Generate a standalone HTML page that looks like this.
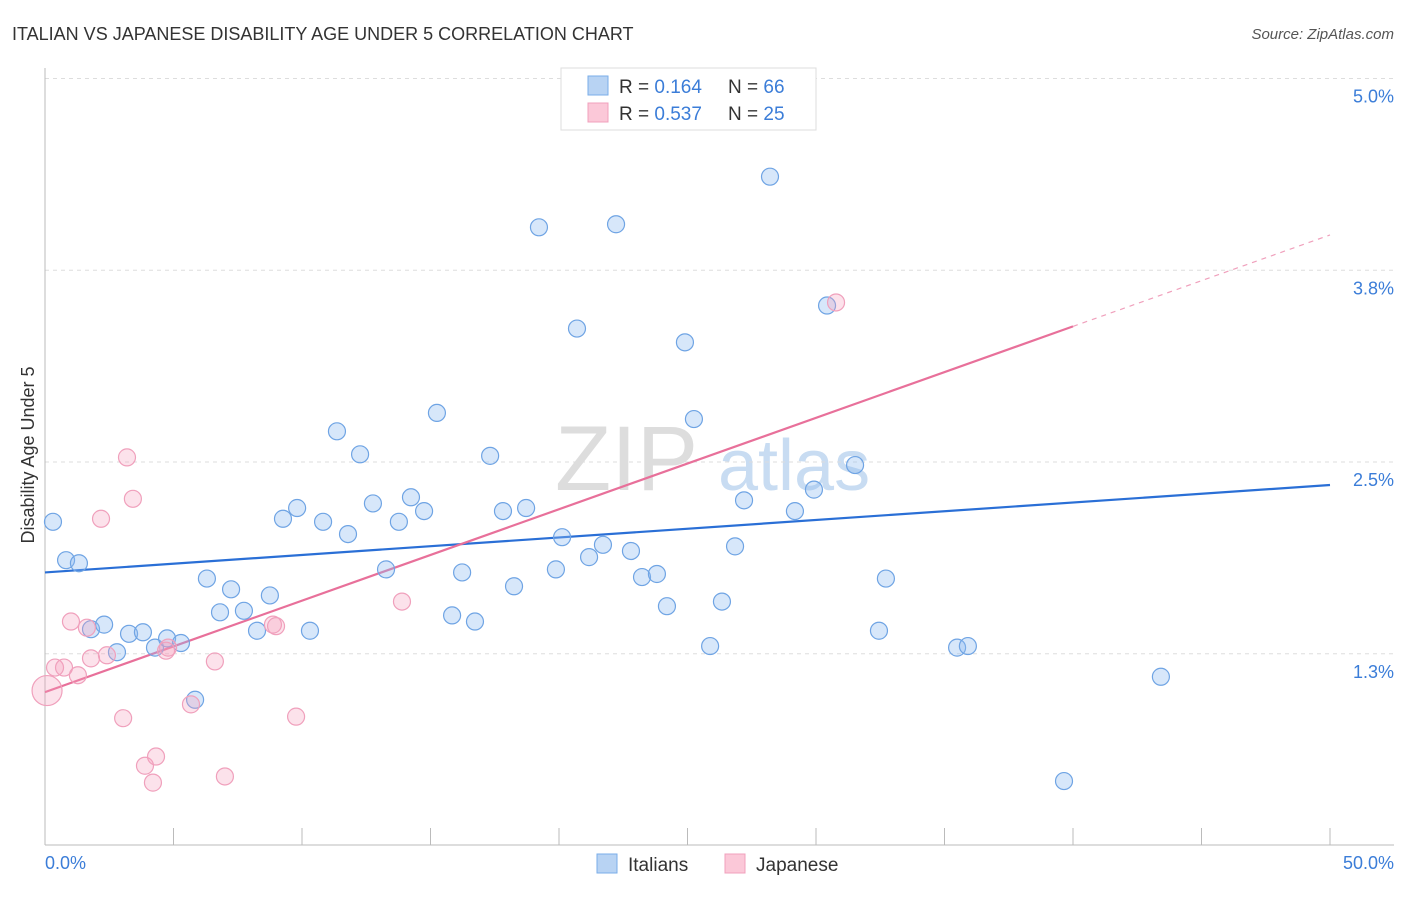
<!DOCTYPE html>
<html><head><meta charset="utf-8"><style>
body{margin:0;background:#fff;font-family:"Liberation Sans",sans-serif;}
svg text{font-family:"Liberation Sans",sans-serif;}
</style></head><body>
<svg id="chart" width="1406" height="892" viewBox="0 0 1406 892">
<text x="12" y="40" font-size="18" fill="#333">ITALIAN VS JAPANESE DISABILITY AGE UNDER 5 CORRELATION CHART</text>
<text x="1394" y="39" font-size="15" fill="#555" font-style="italic" text-anchor="end">Source: ZipAtlas.com</text>
<g><text x="555" y="490" font-size="92" fill="#ddd" font-family="Liberation Serif">ZIP</text><text x="718" y="490" font-size="72" fill="#c8dcf2">atlas</text></g>
<g id="grid"></g><g id="axes"></g><g id="lines"></g><g id="points"></g>
<text transform="translate(34,455) rotate(-90)" font-size="18" fill="#333" text-anchor="middle">Disability Age Under 5</text>
<text x="45" y="869" font-size="18" fill="#3b7dd8">0.0%</text>
<text x="1394" y="869" font-size="18" fill="#3b7dd8" text-anchor="end">50.0%</text>
<g>
<rect x="561" y="68" width="255" height="62" fill="#fff" stroke="#ddd"/>
<rect x="588" y="76" width="20" height="19" fill="#b8d3f3" stroke="#7aaee8"/>
<rect x="588" y="103" width="20" height="19" fill="#fbc8d8" stroke="#f0a0bc"/>
<text x="619" y="93" font-size="19" fill="#333">R = <tspan fill="#3b7dd8">0.164</tspan><tspan x="728">N = </tspan><tspan fill="#3b7dd8">66</tspan></text>
<text x="619" y="120" font-size="19" fill="#333">R = <tspan fill="#3b7dd8">0.537</tspan><tspan x="728">N = </tspan><tspan fill="#3b7dd8">25</tspan></text>
</g>
<g>
<rect x="597" y="854" width="20" height="19" fill="#b8d3f3" stroke="#7aaee8"/>
<text x="628" y="871" font-size="19" fill="#333">Italians</text>
<rect x="725" y="854" width="20" height="19" fill="#fbc8d8" stroke="#f0a0bc"/>
<text x="756" y="871" font-size="19" fill="#333">Japanese</text>
</g>
</svg>
<script>
const yTicks=[1.25,2.5,3.75,5.0];
const yTickLabels=["1.3%","2.5%","3.8%","5.0%"];
const xTicks=[0,5,10,15,20,25,30,35,40,45,50];
const italiansX=[0.31,0.82,1.32,1.79,2.30,2.80,3.27,3.81,4.28,4.75,5.29,5.84,6.30,6.81,7.24,7.74,8.25,8.75,9.26,9.81,10.31,10.82,11.36,11.79,12.26,12.76,13.27,13.77,14.24,14.75,15.25,15.84,16.23,16.73,17.32,17.82,18.25,18.72,19.22,19.88,20.12,20.70,21.17,21.71,22.22,22.80,23.23,23.81,24.20,24.90,25.25,25.88,26.34,26.85,27.20,28.21,29.18,29.92,30.43,31.52,32.45,32.72,35.49,35.91,43.42,39.65];
const italiansY=[2.11,1.86,1.84,1.41,1.44,1.26,1.38,1.39,1.29,1.35,1.32,0.95,1.74,1.52,1.67,1.53,1.40,1.63,2.13,2.20,1.40,2.11,2.70,2.03,2.55,2.23,1.80,2.11,2.27,2.18,2.82,1.50,1.78,1.46,2.54,2.18,1.69,2.20,4.03,1.80,2.01,3.37,1.88,1.96,4.05,1.92,1.75,1.77,1.56,3.28,2.78,1.30,1.59,1.95,2.25,4.36,2.18,2.32,3.52,2.48,1.40,1.74,1.29,1.30,1.10,0.42];
const japaneseX=[0.08,0.39,0.74,1.01,1.28,1.63,1.79,2.18,2.41,3.04,3.19,3.42,3.89,4.20,4.32,4.71,4.79,5.68,6.61,7.00,8.87,8.99,9.77,13.89,30.78];
const japaneseY=[1.01,1.16,1.16,1.46,1.11,1.42,1.22,2.13,1.24,0.83,2.53,2.26,0.52,0.41,0.58,1.27,1.29,0.92,1.20,0.45,1.44,1.43,0.84,1.59,3.54];
const italiansTrend=[1.78,2.35];
const japaneseTrend=[1.00,3.98];
const japaneseSolidEnd=40;

const NS="http://www.w3.org/2000/svg";
const xs=v=>45+v*25.7;
const ys=v=>845.5-v*153.4;
function mk(tag,attrs,parent){const e=document.createElementNS(NS,tag);for(const k in attrs)e.setAttribute(k,attrs[k]);parent.appendChild(e);return e;}
const grid=document.getElementById('grid'),axes=document.getElementById('axes'),lines=document.getElementById('lines'),pts=document.getElementById('points');
yTicks.forEach((t,i)=>{
 const l=mk('line',{x1:45,x2:1394,y1:ys(t),y2:ys(t),stroke:'#ddd','stroke-dasharray':'4,4'},grid);
 
 
 const tx=mk('text',{x:1394,y:ys(t)+24,'font-size':18,fill:'#3b7dd8','text-anchor':'end'},grid);
 tx.textContent=yTickLabels[i];
 
 
});
const ya=mk('line',{x1:45,x2:45,y1:68,y2:845,stroke:'#bbb'},axes);


const xa=mk('line',{x1:45,x2:1394,y1:845,y2:845,stroke:'#bbb'},axes);


xTicks.forEach(t=>{
 const l=mk('line',{x1:xs(t),x2:xs(t),y1:828,y2:845,stroke:'#bbb'},axes);
 
 
});
function dots(X,Y,fill,stroke,name){
 X.forEach((x,i)=>{
  const r=(name==='japanese-point'&&i===0)?15:8.5;
  const c=mk('circle',{cx:xs(x),cy:ys(Y[i]),r:r,fill:fill,stroke:stroke,'stroke-width':1.2},pts);
  
  
 });
}
dots(italiansX,italiansY,'rgba(140,185,240,0.35)','#6fa4e4','italian-point');
dots(japaneseX,japaneseY,'rgba(245,160,190,0.3)','#f0a0bc','japanese-point');
const bl=mk('line',{x1:xs(0),y1:ys(italiansTrend[0]),x2:xs(50),y2:ys(italiansTrend[1]),stroke:'#2a6fd6','stroke-width':2.2},lines);


const pm=(japaneseTrend[1]-japaneseTrend[0])/50;
const pl=mk('line',{x1:xs(0),y1:ys(japaneseTrend[0]),x2:xs(japaneseSolidEnd),y2:ys(japaneseTrend[0]+pm*japaneseSolidEnd),stroke:'#e8709a','stroke-width':2.2},lines);


const pd=mk('line',{x1:xs(japaneseSolidEnd),y1:ys(japaneseTrend[0]+pm*japaneseSolidEnd),x2:xs(50),y2:ys(japaneseTrend[1]),stroke:'#f0a0bc','stroke-width':1.2,'stroke-dasharray':'5,5'},lines);


</script>
</body></html>
